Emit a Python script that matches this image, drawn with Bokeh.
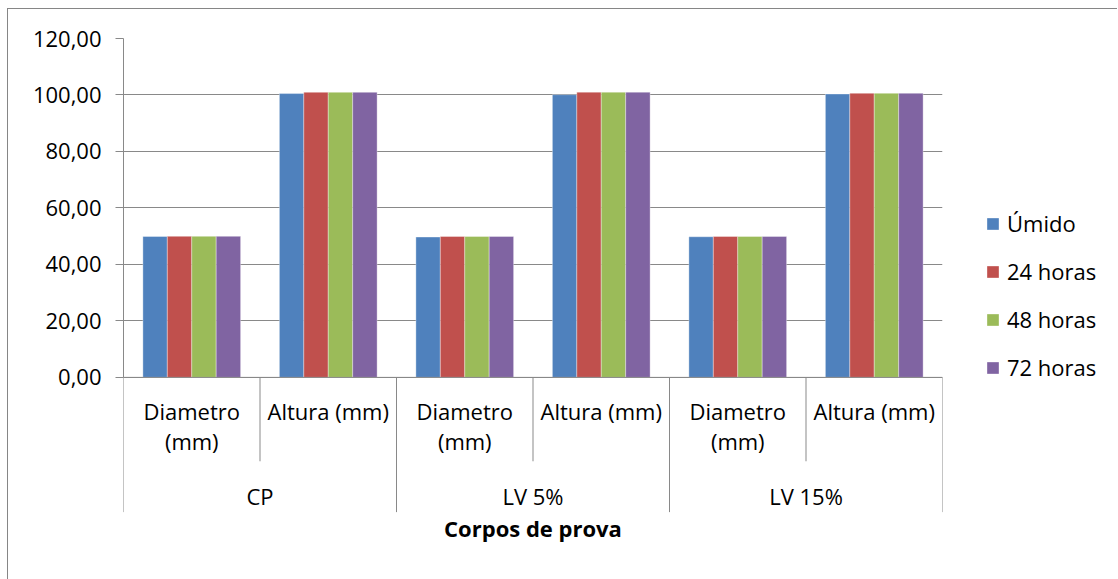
from bokeh.plotting import figure
from bokeh.layouts import row
from bokeh.models import (FactorRange, Range1d, ColumnDataSource, FixedTicker,
                          Span, Legend, LegendItem)
from bokeh.transform import dodge
from bokeh.core.properties import value
from bokeh.embed import file_html
from bokeh.resources import INLINE

# ---------------- data ----------------
groups = ["CP", "LV 5%", "LV 15%"]
measures = ["Diametro (mm)", "Altura (mm)"]
series = ["Úmido", "24 horas", "48 horas", "72 horas"]
umido = [49.90, 100.50, 49.70, 100.10, 49.80, 100.35]
h24 = [49.95, 100.95, 49.90, 101.00, 49.90, 100.60]
h48 = [49.95, 100.95, 49.90, 101.00, 49.90, 100.60]
h72 = [49.95, 100.95, 49.90, 101.00, 49.90, 100.60]
y_ticks = [0, 20, 40, 60, 80, 100, 120]
x_title = "Corpos de prova"
colors = ["#4F81BD", "#C0504D", "#9BBB59", "#8064A2"]

FONT = value("Open Sans")
GRAY = "#898989"
H = 570

factors = [(g, m) for g in groups for m in measures]


def wrap(label):
    # Excel wraps "Diametro (mm)" onto two lines, "Altura (mm)" fits on one
    if label.startswith("Diametro"):
        a, b = label.split(" ", 1)
        return a, b
    return label, ""


line1 = [wrap(m)[0] for (_, m) in factors]
line2 = [wrap(m)[1] for (_, m) in factors]

src = ColumnDataSource(dict(x=factors, s0=umido, s1=h24, s2=h48, s3=h72,
                            l1=line1, l2=line2))

p = figure(width=944, height=H,
           x_range=FactorRange(*factors, range_padding=0, group_padding=0,
                               factor_padding=0, subgroup_padding=0),
           y_range=Range1d(-62, 120),
           output_backend="svg", toolbar_location=None,
           min_border_left=115, min_border_right=10,
           min_border_top=29, min_border_bottom=27)
p.outline_line_color = None
p.background_fill_color = "white"
p.border_fill_color = "white"

# y axis
p.yaxis.ticker = FixedTicker(ticks=y_ticks)
p.yaxis.bounds = (min(y_ticks), max(y_ticks))
p.yaxis.axis_line_color = GRAY
p.yaxis.major_tick_line_color = GRAY
p.yaxis.major_tick_in = 0
p.yaxis.major_tick_out = 8
p.yaxis.minor_tick_line_color = None
p.yaxis.major_label_standoff = 14
p.yaxis.major_label_text_font = "Open Sans"
p.yaxis.major_label_text_font_size = "22px"
p.yaxis.major_label_text_color = "black"
p.yaxis.major_label_overrides = {t: f"{t:.2f}".replace(".", ",") for t in y_ticks}

p.ygrid.ticker = FixedTicker(ticks=y_ticks)
p.ygrid.grid_line_color = GRAY
p.ygrid.grid_line_width = 1
p.xgrid.visible = False
p.xaxis.visible = False

# bars
n = len(series)
bw = 0.179
cols = ["s0", "s1", "s2", "s3"]
for j, (col, c) in enumerate(zip(cols, colors)):
    p.vbar(x=dodge("x", (j - (n - 1) / 2) * bw, range=p.x_range), top=col,
           bottom=0, width=bw, source=src, fill_color=c,
           line_color="white", line_alpha=0.35, line_width=1)

# category axis baseline and separators
p.add_layout(Span(location=0, dimension="width", line_color=GRAY, line_width=1))

sub_src = ColumnDataSource(dict(x=[f for f in factors if f[1] == measures[1]]))
p.segment(x0=dodge("x", -0.5, range=p.x_range), y0=0,
          x1=dodge("x", -0.5, range=p.x_range), y1=-29.7,
          source=sub_src, line_color=GRAY, line_width=1)

grp_src = ColumnDataSource(dict(g=groups))
p.segment(x0=dodge("g", -1.0, range=p.x_range), y0=0,
          x1=dodge("g", -1.0, range=p.x_range), y1=-47.7,
          source=grp_src, line_color=GRAY, line_width=1)
last_src = ColumnDataSource(dict(g=groups[-1:]))
p.segment(x0=dodge("g", 1.0, range=p.x_range), y0=0,
          x1=dodge("g", 1.0, range=p.x_range), y1=-47.7,
          source=last_src, line_color=GRAY, line_width=1)

# category labels
p.text(x="x", y=-12.0, text="l1", source=src, text_align="center",
       text_baseline="middle", text_font=FONT, text_font_size="22px",
       text_color="black")
p.text(x="x", y=-22.6, text="l2", source=src, text_align="center",
       text_baseline="middle", text_font=FONT, text_font_size="22px",
       text_color="black")
p.text(x="g", y=-42.1, text="g", source=grp_src, text_align="center",
       text_baseline="middle", text_font=FONT, text_font_size="22px",
       text_color="black")
title_src = ColumnDataSource(dict(x=[groups[len(groups) // 2]], t=[x_title]))
p.text(x="x", y=-53.3, text="t", source=title_src, text_align="center",
       text_baseline="middle", text_font=FONT, text_font_size="22px",
       text_font_style="bold", text_color="black")

# legend panel (separate figure to the right of the plot area)
lg = figure(width=165, height=H, x_range=Range1d(0, 1), y_range=Range1d(0, 1),
            output_backend="svg", toolbar_location=None,
            x_axis_location=None, y_axis_location=None, min_border=0)
lg.outline_line_color = None
lg.xgrid.visible = False
lg.ygrid.visible = False
# invisible proxy glyphs (NaN height) that only carry the legend swatches
proxy_src = ColumnDataSource(dict(x=[0.5], top=[float("nan")]))
proxies = [lg.vbar(x="x", top="top", width=0.1, source=proxy_src, fill_color=c,
                   line_color="white", line_alpha=0.35, line_width=1)
           for c in colors]
legend = Legend(items=[LegendItem(label=s, renderers=[r]) for s, r in zip(series, proxies)],
                location=(33, 170), orientation="vertical")
legend.border_line_color = None
legend.background_fill_alpha = 0
legend.padding = 0
legend.margin = 0
legend.glyph_width = 15
legend.glyph_height = 15
legend.label_standoff = 7
legend.label_height = 24
legend.spacing = 18
legend.label_text_font = "Open Sans"
legend.label_text_font_size = "22px"
legend.label_text_color = "black"
lg.add_layout(legend)

layout = row(p, lg)
layout.styles = {"margin-left": "7px", "margin-top": "8px",
                 "border-top": "1px solid #868686",
                 "border-left": "1px solid #868686"}

open("out.html", "w").write(file_html(layout, INLINE))
